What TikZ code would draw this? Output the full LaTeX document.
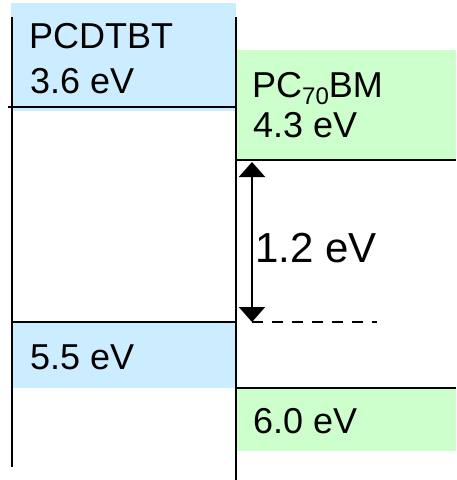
\documentclass[tikz,border=0pt]{standalone}
\usepackage{fontspec}
\setmainfont{Liberation Sans}
\usetikzlibrary{arrows.meta}
\definecolor{lblue}{HTML}{CCECFF}
\definecolor{lgreen}{HTML}{CCFFCC}
\begin{document}
\begin{tikzpicture}[x=1pt,y=1pt,
  lvl/.style={line width=2pt},
  axis/.style={line width=2.5pt},
  lab/.style={anchor=base west,inner sep=0pt,font=\fontsize{36}{40}\selectfont},
  gap/.style={line width=2pt,{Triangle[width=26pt,length=15pt]}-{Triangle[width=26pt,length=15pt]}}]
\useasboundingbox (0,0) rectangle (456,-480);
% fills
\fill[lblue] (11,-3) rectangle (236,-111);
\fill[lgreen] (237,-50) rectangle (456,-160);
\fill[lblue] (12,-323) rectangle (236,-388);
\fill[lgreen] (237,-388) rectangle (456,-451);
% level lines
\draw[lvl] (8,-107) -- (236,-107);
\draw[lvl] (236,-160) -- (456,-160);
\draw[lvl] (12,-322) -- (236,-322);
\draw[lvl] (236,-388) -- (456,-388);
% axes
\draw[axis] (12,-17) -- (12,-467);
\draw[axis] (236,-17) -- (236,-480);
% labels
\node[lab] (pcd) at (29,-48) {PCDTBT};
\node[lab] (l36) at (30,-93) {3.6 eV};
\node[lab] (pcbm) at (252,-97) {PC\raisebox{-7pt}{\fontsize{24}{26}\selectfont 70}BM};
\node[lab] (l43) at (253,-137) {4.3 eV};
\node[lab] (l55) at (30,-369) {5.5 eV};
\node[lab] (l60) at (253,-433) {6.0 eV};
% gap arrow
\coordinate (gtop) at (252,-162);
\coordinate (gbot) at (252,-322);
\coordinate (dend) at (377,-322);
\draw[gap] (gtop) -- (gbot);
\draw[line width=2pt,dash pattern=on 11pt off 9pt] (gbot) -- (dend);
\node[anchor=base west,inner sep=0pt,font=\fontsize{42}{46}\selectfont] (gl) at (255,-262) {1.2 eV};
\end{tikzpicture}
\end{document}
